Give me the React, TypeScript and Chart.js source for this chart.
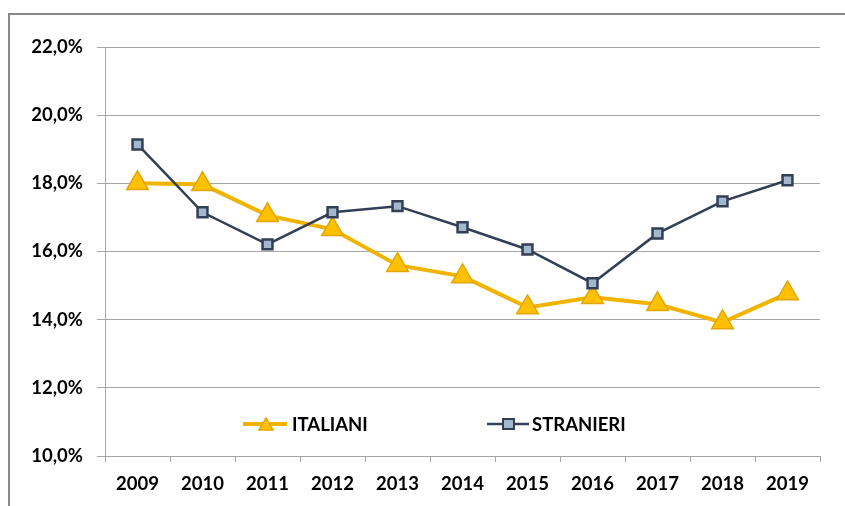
import React, { useEffect, useRef } from "react";
import { Chart, registerables } from "chart.js";

Chart.register(...registerables);

const years = ["2009", "2010", "2011", "2012", "2013", "2014", "2015", "2016", "2017", "2018", "2019"];
const italiani = [18.0, 17.97, 17.06, 16.65, 15.6, 15.27, 14.36, 14.66, 14.45, 13.92, 14.77];
const stranieri = [19.14, 17.15, 16.21, 17.15, 17.33, 16.71, 16.06, 15.07, 16.53, 17.47, 18.09];
const legendLabels = ["ITALIANI", "STRANIERI"];

const FONT = "Lato, 'Open Sans', sans-serif";
const FONT_SIZE = 18.5;
const GOLD_LINE = "#F0B400";
const GOLD_FILL = "#FFC000";
const GOLD_BORDER = "#E2A600";
const NAVY = "#333F55";
const SQ_FILL = "#A3B7CE";

const framePlugin = {
  id: "frame",
  beforeDraw(chart: any) {
    const ctx = chart.ctx;
    ctx.save();
    ctx.fillStyle = "#ffffff";
    ctx.fillRect(0, 0, chart.width, chart.height);
    ctx.strokeStyle = "#888888";
    ctx.lineWidth = 2;
    ctx.beginPath();
    ctx.moveTo(9, chart.height);
    ctx.lineTo(9, 14);
    ctx.lineTo(chart.width, 14);
    ctx.stroke();
    ctx.restore();
  },
};

const legendPlugin = {
  id: "customLegend",
  afterDraw(chart: any) {
    const ctx = chart.ctx;
    const y = 424;
    ctx.save();
    ctx.font = `bold ${FONT_SIZE}px ${FONT}`;
    ctx.textBaseline = "middle";
    // ITALIANI
    ctx.strokeStyle = GOLD_LINE;
    ctx.lineWidth = 4;
    ctx.beginPath();
    ctx.moveTo(243, y);
    ctx.lineTo(287, y);
    ctx.stroke();
    ctx.fillStyle = GOLD_FILL;
    ctx.strokeStyle = GOLD_BORDER;
    ctx.lineWidth = 1.5;
    ctx.beginPath();
    ctx.moveTo(266, y - 6);
    ctx.lineTo(273, y + 6);
    ctx.lineTo(259, y + 6);
    ctx.closePath();
    ctx.fill();
    ctx.stroke();
    ctx.fillStyle = "#000000";
    ctx.fillText(legendLabels[0], 292, y + 1);
    // STRANIERI
    ctx.strokeStyle = NAVY;
    ctx.lineWidth = 2.5;
    ctx.beginPath();
    ctx.moveTo(487, y);
    ctx.lineTo(529, y);
    ctx.stroke();
    ctx.fillStyle = SQ_FILL;
    ctx.lineWidth = 2;
    ctx.fillRect(503, y - 5, 11, 10);
    ctx.strokeRect(503, y - 5, 11, 10);
    ctx.fillStyle = "#000000";
    ctx.fillText(legendLabels[1], 532, y + 1);
    ctx.restore();
  },
};

export default function App() {
  const ref = useRef<HTMLCanvasElement>(null);
  useEffect(() => {
    document.body.style.margin = "0";
    const chart = new Chart(ref.current!, {
      type: "line",
      data: {
        labels: years,
        datasets: [
          {
            label: legendLabels[0],
            data: italiani,
            borderColor: GOLD_LINE,
            borderWidth: 4,
            pointStyle: "triangle",
            pointRadius: 12.5,
            pointBackgroundColor: GOLD_FILL,
            pointBorderColor: GOLD_BORDER,
            pointBorderWidth: 1.5,
            order: 2,
            tension: 0,
          },
          {
            label: legendLabels[1],
            data: stranieri,
            borderColor: NAVY,
            borderWidth: 2.5,
            pointStyle: "rect",
            pointRadius: 7,
            pointBackgroundColor: SQ_FILL,
            pointBorderColor: NAVY,
            pointBorderWidth: 2.5,
            order: 1,
            tension: 0,
          },
        ],
      },
      options: {
        animation: false,
        responsive: false,
        layout: { padding: { left: 0, right: 25, top: 47, bottom: 0 } },
        plugins: { legend: { display: false }, tooltip: { enabled: false } },
        scales: {
          x: {
            offset: true,
            grid: {
              offset: true,
              drawOnChartArea: false,
              tickLength: 6,
              color: "#a6a6a6",
            },
            border: { color: "#a6a6a6", width: 1 },
            ticks: {
              color: "#000000",
              font: { family: FONT, size: FONT_SIZE, weight: "bold" },
              padding: 11,
              maxRotation: 0,
            },
            afterFit(scale: any) {
              scale.height = 50;
            },
          },
          y: {
            min: 10,
            max: 22,
            ticks: {
              stepSize: 2,
              color: "#000000",
              font: { family: FONT, size: FONT_SIZE, weight: "bold" },
              padding: 14,
              callback: (v: any) => Number(v).toFixed(1).replace(".", ",") + "%",
            },
            grid: { color: "#a6a6a6", tickLength: 8 },
            border: { color: "#a6a6a6", width: 1 },
            afterFit(scale: any) {
              scale.width = 105;
            },
          },
        },
      },
      plugins: [framePlugin, legendPlugin],
    });
    return () => chart.destroy();
  }, []);
  return <canvas ref={ref} width={845} height={506} style={{ display: "block" }} />;
}
